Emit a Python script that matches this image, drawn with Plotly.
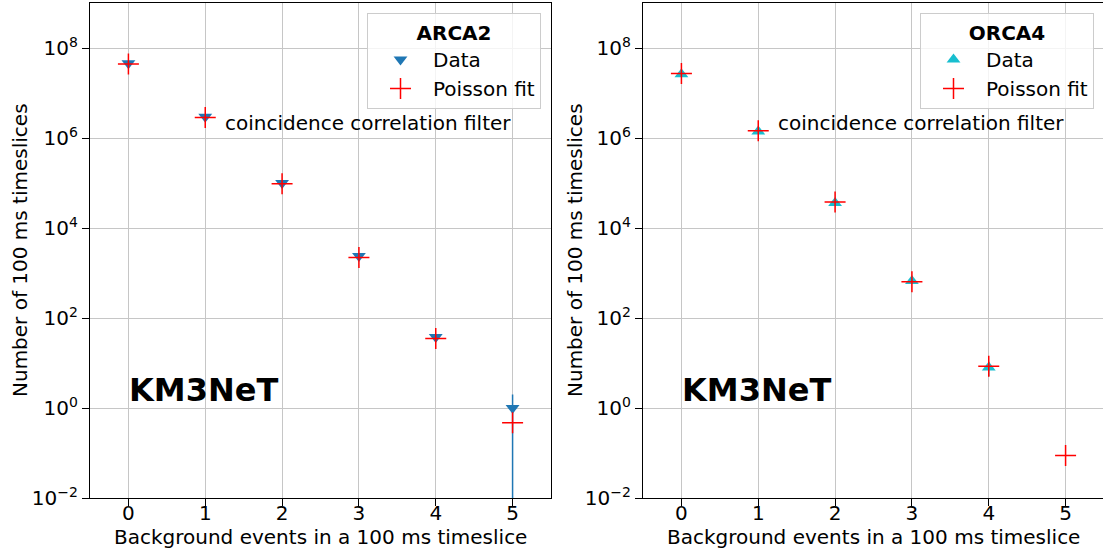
import math
import plotly.graph_objects as go

# ---- data ----
bg_events = [0, 1, 2, 3, 4, 5]
arca_data = [4.6e7, 2.95e6, 1.0e5, 2.4e3, 38, 1]
arca_fit = [4.4e7, 2.85e6, 9.6e4, 2.2e3, 35, 0.47]
orca_data = [2.6e7, 1.4e6, 3.6e4, 660, 7.9, None]
orca_fit = [2.7e7, 1.45e6, 3.8e4, 640, 8.5, 0.088]
arca_err = [math.sqrt(v) for v in arca_data]
orca_err = [math.sqrt(v) if v else 0 for v in orca_data]

y_tickvals = [1e-2, 1, 1e2, 1e4, 1e6, 1e8]
y_ticktext = ["10<sup>\u22122</sup>", "10<sup>0</sup>", "10<sup>2</sup>",
              "10<sup>4</sup>", "10<sup>6</sup>", "10<sup>8</sup>"]
x_tickvals = [0, 1, 2, 3, 4, 5]
x_ticktext = ["0", "1", "2", "3", "4", "5"]

x_title = "Background events in a 100 ms timeslice"
y_title = "Number of 100 ms timeslices"
filter_label = "coincidence correlation filter"
experiment = "KM3NeT"

W, H = 1103, 553
FONT = "DejaVu Sans"
BLUE = "#1f77b4"
CYAN = "#17becf"
RED = "#ff0000"

fig = go.Figure()

# left panel: ARCA2
fig.add_trace(go.Scatter(
    x=bg_events, y=arca_data, mode="markers", name="Data",
    marker=dict(symbol="triangle-down", size=12, color=BLUE),
    error_y=dict(type="data", array=arca_err, color=BLUE, thickness=1.5, width=0),
    xaxis="x", yaxis="y", legend="legend"))
fig.add_trace(go.Scatter(
    x=bg_events, y=arca_fit, mode="markers", name="Poisson fit",
    marker=dict(symbol="cross-thin", size=15, color=RED,
                line=dict(color=RED, width=1.5)),
    xaxis="x", yaxis="y", legend="legend"))

# right panel: ORCA4
fig.add_trace(go.Scatter(
    x=bg_events, y=orca_data, mode="markers", name="Data",
    marker=dict(symbol="triangle-up", size=12, color=CYAN),
    error_y=dict(type="data", array=orca_err, color=CYAN, thickness=1.5, width=0),
    xaxis="x2", yaxis="y2", legend="legend2"))
fig.add_trace(go.Scatter(
    x=bg_events, y=orca_fit, mode="markers", name="Poisson fit",
    marker=dict(symbol="cross-thin", size=15, color=RED,
                line=dict(color=RED, width=1.5)),
    xaxis="x2", yaxis="y2", legend="legend2"))

# geometry (pixels -> paper fractions, margins are zero)
L1, R1 = 90, 551
L2, R2 = 643, 1104
TOP, BOT = 3, 498
unit = (R1 - L1) / 6.0
ydom = [(H - BOT) / H, (H - TOP) / H]

axis_common = dict(
    showline=True, linecolor="black", linewidth=1.3,
    ticks="outside", ticklen=7, tickwidth=1.3, tickcolor="black",
    showgrid=True, gridcolor="#c6c6c6", gridwidth=1.4,
    zeroline=False, tickfont=dict(family=FONT, size=20, color="black"),
    automargin=False,
)
xaxis_extra = dict(ticklabelstandoff=-10)

fig.update_layout(
    width=W, height=H,
    margin=dict(l=0, r=0, t=0, b=0),
    paper_bgcolor="white", plot_bgcolor="white",
    template="none",
    font=dict(family=FONT, size=20, color="black"),
    xaxis=dict(domain=[L1 / W, R1 / W], range=[-0.5, 5.5],
               tickvals=x_tickvals, ticktext=x_ticktext, mirror=True,
               anchor="y", **axis_common, **xaxis_extra),
    yaxis=dict(domain=ydom, type="log", range=[-2, 9],
               tickvals=y_tickvals, ticktext=y_ticktext, mirror=True,
               anchor="x", **axis_common),
    xaxis2=dict(domain=[L2 / W, 1.0],
                range=[-0.5, 5.5 - (R2 - W) / unit],
                tickvals=x_tickvals, ticktext=x_ticktext, mirror=True,
                anchor="y2", **axis_common, **xaxis_extra),
    yaxis2=dict(domain=ydom, type="log", range=[-2, 9],
                tickvals=y_tickvals, ticktext=y_ticktext, mirror=False,
                anchor="x2", **axis_common),
    legend=dict(
        x=541 / W, xanchor="right", y=(H - 13) / H, yanchor="top",
        bgcolor="rgba(255,255,255,0.8)", bordercolor="#cccccc", borderwidth=1,
        font=dict(family=FONT, size=20, color="black"),
        title=dict(text="<b>ARCA2</b>", side="top center",
                   font=dict(family=FONT, size=20, color="black")),
        itemwidth=55),
    legend2=dict(
        x=1094 / W, xanchor="right", y=(H - 13) / H, yanchor="top",
        bgcolor="rgba(255,255,255,0.8)", bordercolor="#cccccc", borderwidth=1,
        font=dict(family=FONT, size=20, color="black"),
        title=dict(text="<b>ORCA4</b>", side="top center",
                   font=dict(family=FONT, size=20, color="black")),
        itemwidth=55),
    showlegend=True,
)

annotations = []
for xd, yd, xc in (("x domain", "y domain", (L1 + R1) / 2),
                   ("x2 domain", "y2 domain", (L2 + R2) / 2)):
    annotations.append(dict(text=filter_label, xref=xd, yref=yd,
                            x=(223 - L1) / (R1 - L1), y=(BOT - 123) / (BOT - TOP),
                            xanchor="left", yanchor="middle", showarrow=False,
                            font=dict(family=FONT, size=20, color="black")))
    annotations.append(dict(text="<b>" + experiment + "</b>", xref=xd, yref=yd,
                            x=(127 - L1) / (R1 - L1), y=(BOT - 390) / (BOT - TOP),
                            xanchor="left", yanchor="middle", showarrow=False,
                            font=dict(family=FONT, size=32, color="black")))
    annotations.append(dict(text=x_title, xref="paper", yref="paper",
                            x=xc / W, y=(H - 537) / H,
                            xanchor="center", yanchor="middle", showarrow=False,
                            font=dict(family=FONT, size=20, color="black")))
annotations.append(dict(text=y_title, xref="paper", yref="paper",
                        x=20 / W, y=(H - 250) / H, textangle=-90,
                        xanchor="center", yanchor="middle", showarrow=False,
                        font=dict(family=FONT, size=20, color="black")))
annotations.append(dict(text=y_title, xref="paper", yref="paper",
                        x=575 / W, y=(H - 250) / H, textangle=-90,
                        xanchor="center", yanchor="middle", showarrow=False,
                        font=dict(family=FONT, size=20, color="black")))
fig.update_layout(annotations=annotations)

fig.write_html("out.html",
               config={"displayModeBar": False},
               post_script="document.body.style.margin='0px';"
                           "document.body.style.overflow='hidden';")
